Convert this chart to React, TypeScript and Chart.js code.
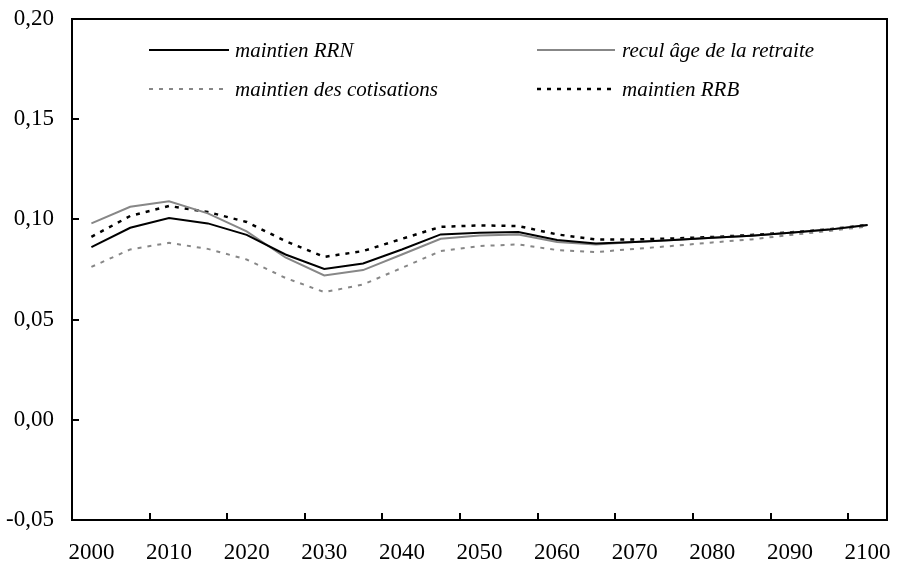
import React, { useEffect, useRef } from 'react';
import { Chart, registerables } from 'chart.js';

Chart.register(...registerables);

const years = ['2000', '2005', '2010', '2015', '2020', '2025', '2030', '2035', '2040', '2045', '2050',
  '2055', '2060', '2065', '2070', '2075', '2080', '2085', '2090', '2095', '2100'];

const maintienRRN = [0.0862, 0.0958, 0.1007, 0.098, 0.0923, 0.0825, 0.0753, 0.078, 0.085, 0.0925, 0.0933,
  0.0937, 0.0897, 0.088, 0.0887, 0.0897, 0.0908, 0.0919, 0.0933, 0.0949, 0.0972];
const reculAge = [0.098, 0.1063, 0.109, 0.103, 0.094, 0.081, 0.072, 0.0747, 0.0825, 0.0903, 0.092,
  0.0925, 0.0887, 0.0875, 0.0887, 0.0897, 0.0908, 0.0919, 0.0933, 0.0949, 0.0972];
const maintienCotisations = [0.0763, 0.085, 0.0883, 0.0853, 0.08, 0.0708, 0.0637, 0.0675, 0.0758, 0.0842, 0.0867,
  0.0875, 0.0847, 0.0837, 0.0853, 0.0868, 0.0885, 0.09, 0.0922, 0.0942, 0.0965];
const maintienRRB = [0.0913, 0.1017, 0.1067, 0.1037, 0.0987, 0.0892, 0.0813, 0.0842, 0.0903, 0.0963, 0.097,
  0.0967, 0.0925, 0.09, 0.09, 0.0905, 0.0912, 0.0922, 0.0935, 0.095, 0.0973];

const yTicks = [-0.05, 0, 0.05, 0.1, 0.15, 0.2];

const FONT = '"Liberation Serif", "Times New Roman", serif';

const framePlugin = {
  id: 'frame',
  afterDraw(chart: any) {
    const { ctx, chartArea } = chart;
    const { left, right, top, bottom } = chartArea;
    const xs = chart.scales.x;
    const ys = chart.scales.y;
    ctx.save();
    ctx.strokeStyle = '#000';
    ctx.lineWidth = 2;
    ctx.strokeRect(left, top, right - left, bottom - top);
    ctx.beginPath();
    yTicks.forEach((v) => {
      const y = Math.round(ys.getPixelForValue(v));
      ctx.moveTo(left, y);
      ctx.lineTo(left + 7, y);
    });
    for (let i = 2; i < years.length; i += 2) {
      const x = Math.round((xs.getPixelForValue(i - 1) + xs.getPixelForValue(i)) / 2);
      ctx.moveTo(x, bottom);
      ctx.lineTo(x, bottom - 7);
    }
    ctx.stroke();

    // legend
    const items = chart.data.datasets;
    const cols = [{ x0: 149, x1: 229, tx: 235 }, { x0: 537, x1: 615, tx: 622 }];
    const rows = [50, 89];
    const order = [[0, 0], [1, 0], [0, 1], [1, 1]];
    ctx.font = 'italic 21px ' + FONT;
    ctx.textBaseline = 'middle';
    ctx.textAlign = 'left';
    items.forEach((ds: any, i: number) => {
      const [c, r] = order[i];
      const col = cols[c];
      const y = rows[r];
      ctx.beginPath();
      ctx.strokeStyle = ds.borderColor;
      ctx.lineWidth = ds.borderWidth;
      ctx.setLineDash(ds.borderDash || []);
      ctx.moveTo(col.x0, y);
      ctx.lineTo(col.x1, y);
      ctx.stroke();
      ctx.setLineDash([]);
      ctx.fillStyle = '#000';
      ctx.fillText(ds.label, col.tx, y + 1);
    });
    ctx.restore();
  },
};

export default function App() {
  const ref = useRef<HTMLCanvasElement>(null);
  useEffect(() => {
    if (!ref.current) return;
    const chart = new Chart(ref.current, {
      type: 'line',
      data: {
        labels: years,
        datasets: [
          { label: 'maintien RRN', data: maintienRRN, borderColor: '#000000', borderWidth: 2, pointRadius: 0, tension: 0 },
          { label: 'recul âge de la retraite', data: reculAge, borderColor: '#878787', borderWidth: 2, pointRadius: 0, tension: 0 },
          { label: 'maintien des cotisations', data: maintienCotisations, borderColor: '#878787', borderWidth: 2, borderDash: [4, 6], pointRadius: 0, tension: 0 },
          { label: 'maintien RRB', data: maintienRRB, borderColor: '#000000', borderWidth: 2.5, borderDash: [4, 6], pointRadius: 0, tension: 0 },
        ],
      },
      options: {
        animation: false,
        responsive: true,
        maintainAspectRatio: false,
        layout: { padding: { top: 19, right: 14, left: 0, bottom: 0 } },
        plugins: { legend: { display: false }, tooltip: { enabled: false } },
        scales: {
          x: {
            type: 'category',
            offset: true,
            grid: { display: false, drawTicks: false },
            border: { display: false },
            ticks: {
              autoSkip: false,
              maxRotation: 0,
              padding: 19,
              color: '#000',
              font: { family: FONT, size: 23 },
              callback: (_v: any, i: number) => (i % 2 === 0 ? years[i] : ''),
            },
            afterFit: (s: any) => {
              s.height = 43;
              s.paddingLeft = 0; s.paddingRight = 0; s.paddingTop = 0; s.paddingBottom = 0;
            },
          },
          y: {
            min: -0.05,
            max: 0.2,
            grid: { display: false, drawTicks: false },
            border: { display: false },
            afterBuildTicks: (s: any) => { s.ticks = yTicks.map((v) => ({ value: v })); },
            ticks: {
              padding: 18,
              color: '#000',
              font: { family: FONT, size: 23 },
              callback: (v: any) => Number(v).toFixed(2).replace('.', ','),
            },
            afterFit: (s: any) => {
              s.width = 72;
              s.paddingLeft = 0; s.paddingRight = 0; s.paddingTop = 0; s.paddingBottom = 0;
            },
          },
        },
      },
      plugins: [framePlugin],
    });
    return () => chart.destroy();
  }, []);
  return (
    <div style={{ position: 'fixed', left: 0, top: 0, width: 901, height: 563, background: '#fff' }}>
      <canvas ref={ref} />
    </div>
  );
}
